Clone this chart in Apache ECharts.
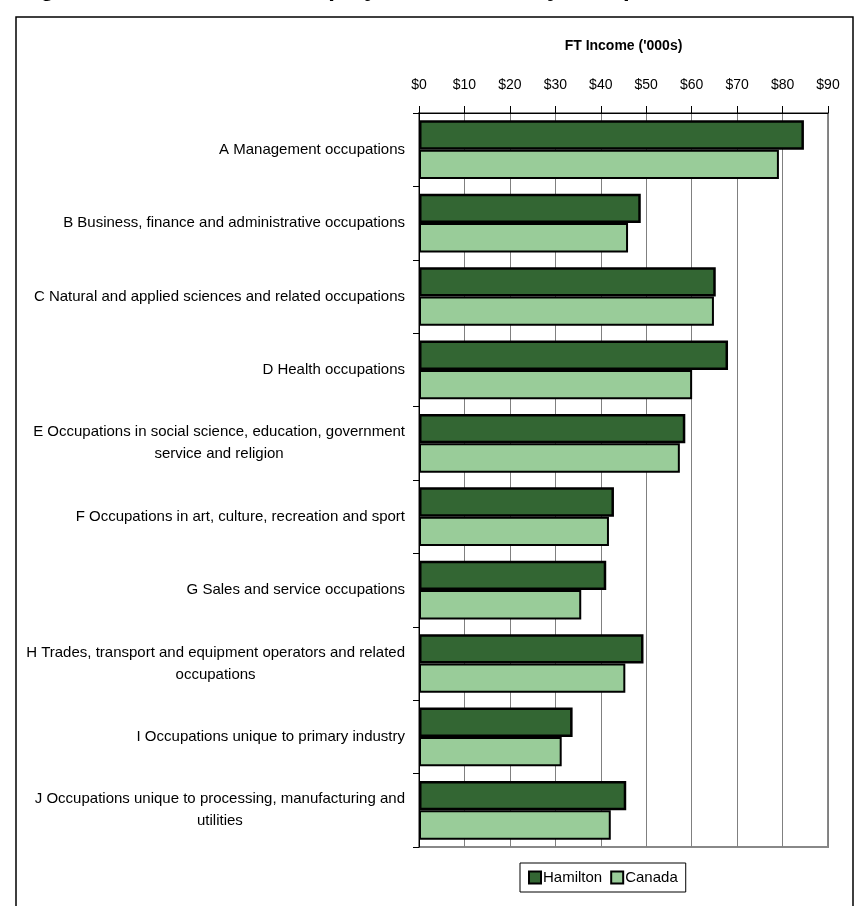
<!DOCTYPE html>
<html>
<head>
<meta charset="utf-8">
<script src="https://cdn.jsdelivr.net/npm/echarts@6/dist/echarts.min.js"></script>
<style>
html,body{margin:0;padding:0;background:#fff;}
#chart{width:858px;height:906px;}
</style>
</head>
<body>
<div id="chart"></div>
<script>
const categories = [
  'A Management occupations',
  'B Business, finance and administrative occupations',
  'C Natural and applied sciences and related occupations',
  'D Health occupations',
  'E Occupations in social science, education, government\nservice and religion',
  'F Occupations in art, culture, recreation and sport',
  'G Sales and service occupations',
  'H Trades, transport and equipment operators and related\noccupations',
  'I Occupations unique to primary industry',
  'J Occupations unique to processing, manufacturing and\nutilities'
];
const hamilton = [84.7, 48.8, 65.3, 68.0, 58.6, 42.9, 41.2, 49.4, 33.8, 45.6];
const canada   = [79.2, 46.0, 64.9, 60.1, 57.4, 41.8, 35.7, 45.4, 31.4, 42.2];
const seriesNames = ['Hamilton', 'Canada'];
const axisTitle = "FT Income ('000s)";
const figureTitle = 'Figure 3-8: Hamilton FT employment income by occupation, 1995';

const FONT = "'Liberation Sans', Arial, sans-serif";

const chart = echarts.init(document.getElementById('chart'), null, {renderer: 'canvas'});
chart.setOption({
  backgroundColor: '#ffffff',
  animation: false,
  graphic: [
    {
      type: 'rect', z: -10, silent: true,
      shape: {x: 16, y: 17, width: 837, height: 1000},
      style: {fill: 'none', stroke: '#000', lineWidth: 1.5}
    },
    {
      type: 'text', z: 10, silent: true,
      x: 19, y: -11,
      style: {
        text: figureTitle,
        font: "bold 24px 'Liberation Sans', Arial, sans-serif",
        fill: '#000',
        verticalAlign: 'middle',
        align: 'left'
      }
    }
  ],
  grid: {
    left: 419, top: 113, width: 409, height: 734,
    outerBoundsMode: 'none', containLabel: false,
    show: true, borderColor: '#888', borderWidth: 2, backgroundColor: 'transparent'
  },
  legend: {
    data: seriesNames,
    left: 520, top: 863,
    orient: 'horizontal',
    borderColor: '#000', borderWidth: 1,
    padding: [7, 8, 7, 8],
    itemWidth: 12, itemHeight: 12, itemGap: 8,
    icon: 'rect',
    itemStyle: {borderColor: '#000', borderWidth: 2},
    textStyle: {fontFamily: FONT, fontSize: 15, color: '#000', padding: [0, 0, 0, -3]}
  },
  xAxis: {
    type: 'value', position: 'top',
    min: 0, max: 90, interval: 10,
    name: axisTitle, nameLocation: 'middle', nameGap: 60,
    nameTextStyle: {fontFamily: FONT, fontWeight: 'bold', fontSize: 14, color: '#000'},
    axisLine: {show: true, lineStyle: {color: '#000', width: 1}},
    axisTick: {show: true, length: 7, lineStyle: {color: '#000'}},
    axisLabel: {formatter: '${value}', margin: 21, fontFamily: FONT, fontSize: 14, color: '#000'},
    splitLine: {show: true, lineStyle: {color: '#808080', width: 1}}
  },
  yAxis: {
    type: 'category', inverse: true,
    data: categories,
    axisLine: {show: true, lineStyle: {color: '#000', width: 1}},
    axisTick: {show: true, length: 6, lineStyle: {color: '#000'}},
    axisLabel: {
      margin: 14, color: '#000', fontFamily: FONT, fontSize: 15, lineHeight: 22,
      formatter: function (v) {
        return v.split('\n').map(function (l) { return '{c|' + l + '}'; }).join('\n');
      },
      rich: {c: {align: 'center', fontFamily: FONT, fontSize: 15, lineHeight: 22, color: '#000'}}
    },
    splitLine: {show: false}
  },
  series: [
    {
      name: seriesNames[0], type: 'bar', data: hamilton,
      barGap: '0%', barCategoryGap: '20%',
      itemStyle: {color: '#336633', borderColor: '#000', borderWidth: 2.5}
    },
    {
      name: seriesNames[1], type: 'bar', data: canada,
      barGap: '0%', barCategoryGap: '20%',
      itemStyle: {color: '#99CC99', borderColor: '#000', borderWidth: 2}
    }
  ]
});
</script>
</body>
</html>
